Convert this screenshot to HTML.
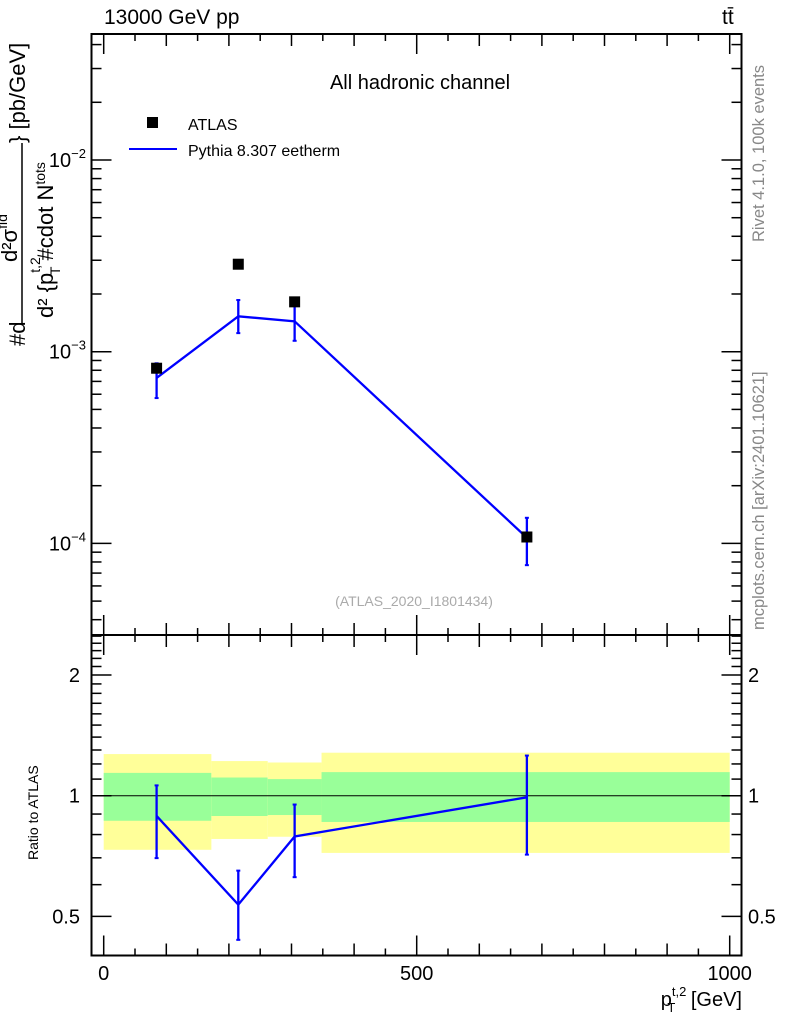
<!DOCTYPE html>
<html><head><meta charset="utf-8"><style>
body{margin:0;background:#fff;}
svg{display:block;font-family:"Liberation Sans",sans-serif;}
</style></head><body>
<svg id="c" width="786" height="1024" viewBox="0 0 786 1024">
<text x="104" y="24" font-size="21">13000 GeV pp</text>
<text x="722" y="24" font-size="21">tt̄</text>
<text x="420" y="89" font-size="20" text-anchor="middle">All hadronic channel</text>
<rect x="147" y="117" width="11" height="11" fill="#000"/>
<text x="188" y="130" font-size="16">ATLAS</text>
<line x1="129" y1="149" x2="177" y2="149" stroke="#00f" stroke-width="2"/>
<text x="188" y="156" font-size="16">Pythia 8.307 eetherm</text>
<text x="414" y="606" font-size="14" fill="#aaa" text-anchor="middle">(ATLAS_2020_I1801434)</text>
<text transform="translate(764,242) rotate(-90)" font-size="16.5" fill="#888">Rivet 4.1.0,  100k events</text>
<text transform="translate(764,630) rotate(-90)" font-size="16.5" fill="#888">mcplots.cern.ch [arXiv:2401.10621]</text>
<g font-size="22">
<text transform="translate(25,346) rotate(-90)">#d</text>
<line x1="22" y1="143" x2="22" y2="323" stroke="#000" stroke-width="1.5"/>
<text transform="translate(17,262) rotate(-90)">d²σ<tspan font-size="14" dy="-10">fid</tspan></text>
<text transform="translate(53,318) rotate(-90)">d² {p<tspan font-size="14" dy="-13">t,2</tspan><tspan font-size="14" dx="-18" dy="20">T</tspan><tspan dy="-7"> #cdot N</tspan><tspan font-size="14" dy="-8">tots</tspan></text>
<text transform="translate(25,143) rotate(-90)">} [pb/GeV]</text>
</g>
<text transform="translate(38,860) rotate(-90)" font-size="14">Ratio to ATLAS</text>
<text x="742" y="1006" font-size="20" text-anchor="end">p<tspan font-size="13" dy="-10">t,2</tspan><tspan font-size="13" dx="-19" dy="16">T</tspan><tspan dy="-6" dx="10"> [GeV]</tspan></text>
<g id="g"></g>
</svg>
<script>
const binEdges=[0,172,262,348,1000];
const xPts=[84.5,215,305,676];
const dataVals=[8.2e-4,2.86e-3,1.82e-3,1.08e-4];
const mcVals=[7.3e-4,1.53e-3,1.44e-3,1.07e-4];
const mcUp=[8.7e-4,1.86e-3,1.73e-3,1.36e-4];
const mcDn=[5.73e-4,1.25e-3,1.14e-3,7.7e-5];
const yellowHi=[1.27,1.22,1.21,1.28];
const yellowLo=[0.733,0.78,0.79,0.72];
const greenHi=[1.14,1.11,1.10,1.145];
const greenLo=[0.866,0.89,0.895,0.86];
const xTicks=[0,500,1000];
const mainTicks=[-4,-3,-2];
const ratioTicks=[0.5,1,2];

const NS="http://www.w3.org/2000/svg";
const g=document.getElementById('g');
const L=91.5,R=741.5,T=34,MB=635,RB=955.5;
const X=v=>103.7+v*0.626;
const YM=v=>351.7-(Math.log10(v)+3)*191.7;
const YR=v=>795.7-Math.log10(v)*401;
function mk(t,a){const e=document.createElementNS(NS,t);for(const k in a)e.setAttribute(k,a[k]);g.appendChild(e);return e;}
for(let i=0;i<4;i++){
 let e=mk('rect',{x:X(binEdges[i]),y:YR(yellowHi[i]),width:X(binEdges[i+1])-X(binEdges[i]),height:YR(yellowLo[i])-YR(yellowHi[i]),fill:'#ffff99'});
 
 
 e=mk('rect',{x:X(binEdges[i]),y:YR(greenHi[i]),width:X(binEdges[i+1])-X(binEdges[i]),height:YR(greenLo[i])-YR(greenHi[i]),fill:'#99ff99'});
 
 
}
let ul=mk('line',{x1:L,x2:R,y1:YR(1),y2:YR(1),stroke:'#000','stroke-width':1});


let f1=mk('rect',{x:L,y:T,width:R-L,height:MB-T,fill:'none',stroke:'#000','stroke-width':2});


let f2=mk('rect',{x:L,y:MB,width:R-L,height:RB-MB,fill:'none',stroke:'#000','stroke-width':2});


for(let v=0;v<=1000;v+=50){
 const len=v%500==0?20:(v%100==0?12:7);
 for(const [yb,yt] of [[MB,T],[RB,MB]]){
  mk('line',{x1:X(v),x2:X(v),y1:yb,y2:yb-len,stroke:'#000','stroke-width':1.5});
  mk('line',{x1:X(v),x2:X(v),y1:yt,y2:yt+len,stroke:'#000','stroke-width':1.5});
 }
}
xTicks.forEach(v=>{const t=mk('text',{x:X(v),y:980,'font-size':20,'text-anchor':'middle'});t.textContent=v;
 
 });
for(let d=-5;d<=-1;d++)for(let m=1;m<10;m++){
 const v=m*Math.pow(10,d),y=YM(v);if(y<T||y>MB)continue;
 const len=m==1?20:10;
 mk('line',{x1:L,x2:L+len,y1:y,y2:y,stroke:'#000','stroke-width':1.5});
 mk('line',{x1:R,x2:R-len,y1:y,y2:y,stroke:'#000','stroke-width':1.5});
}
mainTicks.forEach(d=>{const t=mk('text',{x:86,y:YM(Math.pow(10,d))+7,'font-size':20,'text-anchor':'end'});
 t.innerHTML='10<tspan font-size="13" dy="-9">−'+(-d)+'</tspan>';
 
 });
for(const v of [0.4,0.5,0.6,0.7,0.8,0.9,1,1.1,1.2,1.3,1.4,1.5,1.6,1.7,1.8,1.9,2,2.1,2.2,2.3,2.4,2.5]){
 const y=YR(v);if(y<MB||y>RB)continue;
 const len=(v==0.5||v==1||v==2)?20:10;
 mk('line',{x1:L,x2:L+len,y1:y,y2:y,stroke:'#000','stroke-width':1.5});
 mk('line',{x1:R,x2:R-len,y1:y,y2:y,stroke:'#000','stroke-width':1.5});
}
ratioTicks.forEach(v=>{
 const s=v==0.5?'0.5':String(v);
 let t=mk('text',{x:80,y:YR(v)+7,'font-size':20,'text-anchor':'end'});t.textContent=s;
 
 
 t=mk('text',{x:748,y:YR(v)+7,'font-size':20});t.textContent=s;
 
 
});
let pm=mk('polyline',{points:xPts.map((x,i)=>X(x)+','+YM(mcVals[i])).join(' '),fill:'none',stroke:'#00f','stroke-width':2.3});


xPts.forEach((x,i)=>{
 const e=mk('line',{x1:X(x),x2:X(x),y1:YM(mcUp[i]),y2:YM(mcDn[i]),stroke:'#00f','stroke-width':2.3});
 
 
 [mcUp[i],mcDn[i]].forEach(v=>mk('line',{x1:X(x)-2,x2:X(x)+2,y1:YM(v),y2:YM(v),stroke:'#00f','stroke-width':2}));
 const r=mk('rect',{x:X(x)-5.5,y:YM(dataVals[i])-5.5,width:11,height:11,fill:'#000'});
 
 
});
let pr=mk('polyline',{points:xPts.map((x,i)=>X(x)+','+YR(mcVals[i]/dataVals[i])).join(' '),fill:'none',stroke:'#00f','stroke-width':2.3});


xPts.forEach((x,i)=>{
 const u=mcUp[i]/dataVals[i],d=mcDn[i]/dataVals[i];
 const e=mk('line',{x1:X(x),x2:X(x),y1:YR(u),y2:YR(d),stroke:'#00f','stroke-width':2.3});
 
 
 [u,d].forEach(v=>mk('line',{x1:X(x)-2,x2:X(x)+2,y1:YR(v),y2:YR(v),stroke:'#00f','stroke-width':2}));
});
</script>
</body></html>
